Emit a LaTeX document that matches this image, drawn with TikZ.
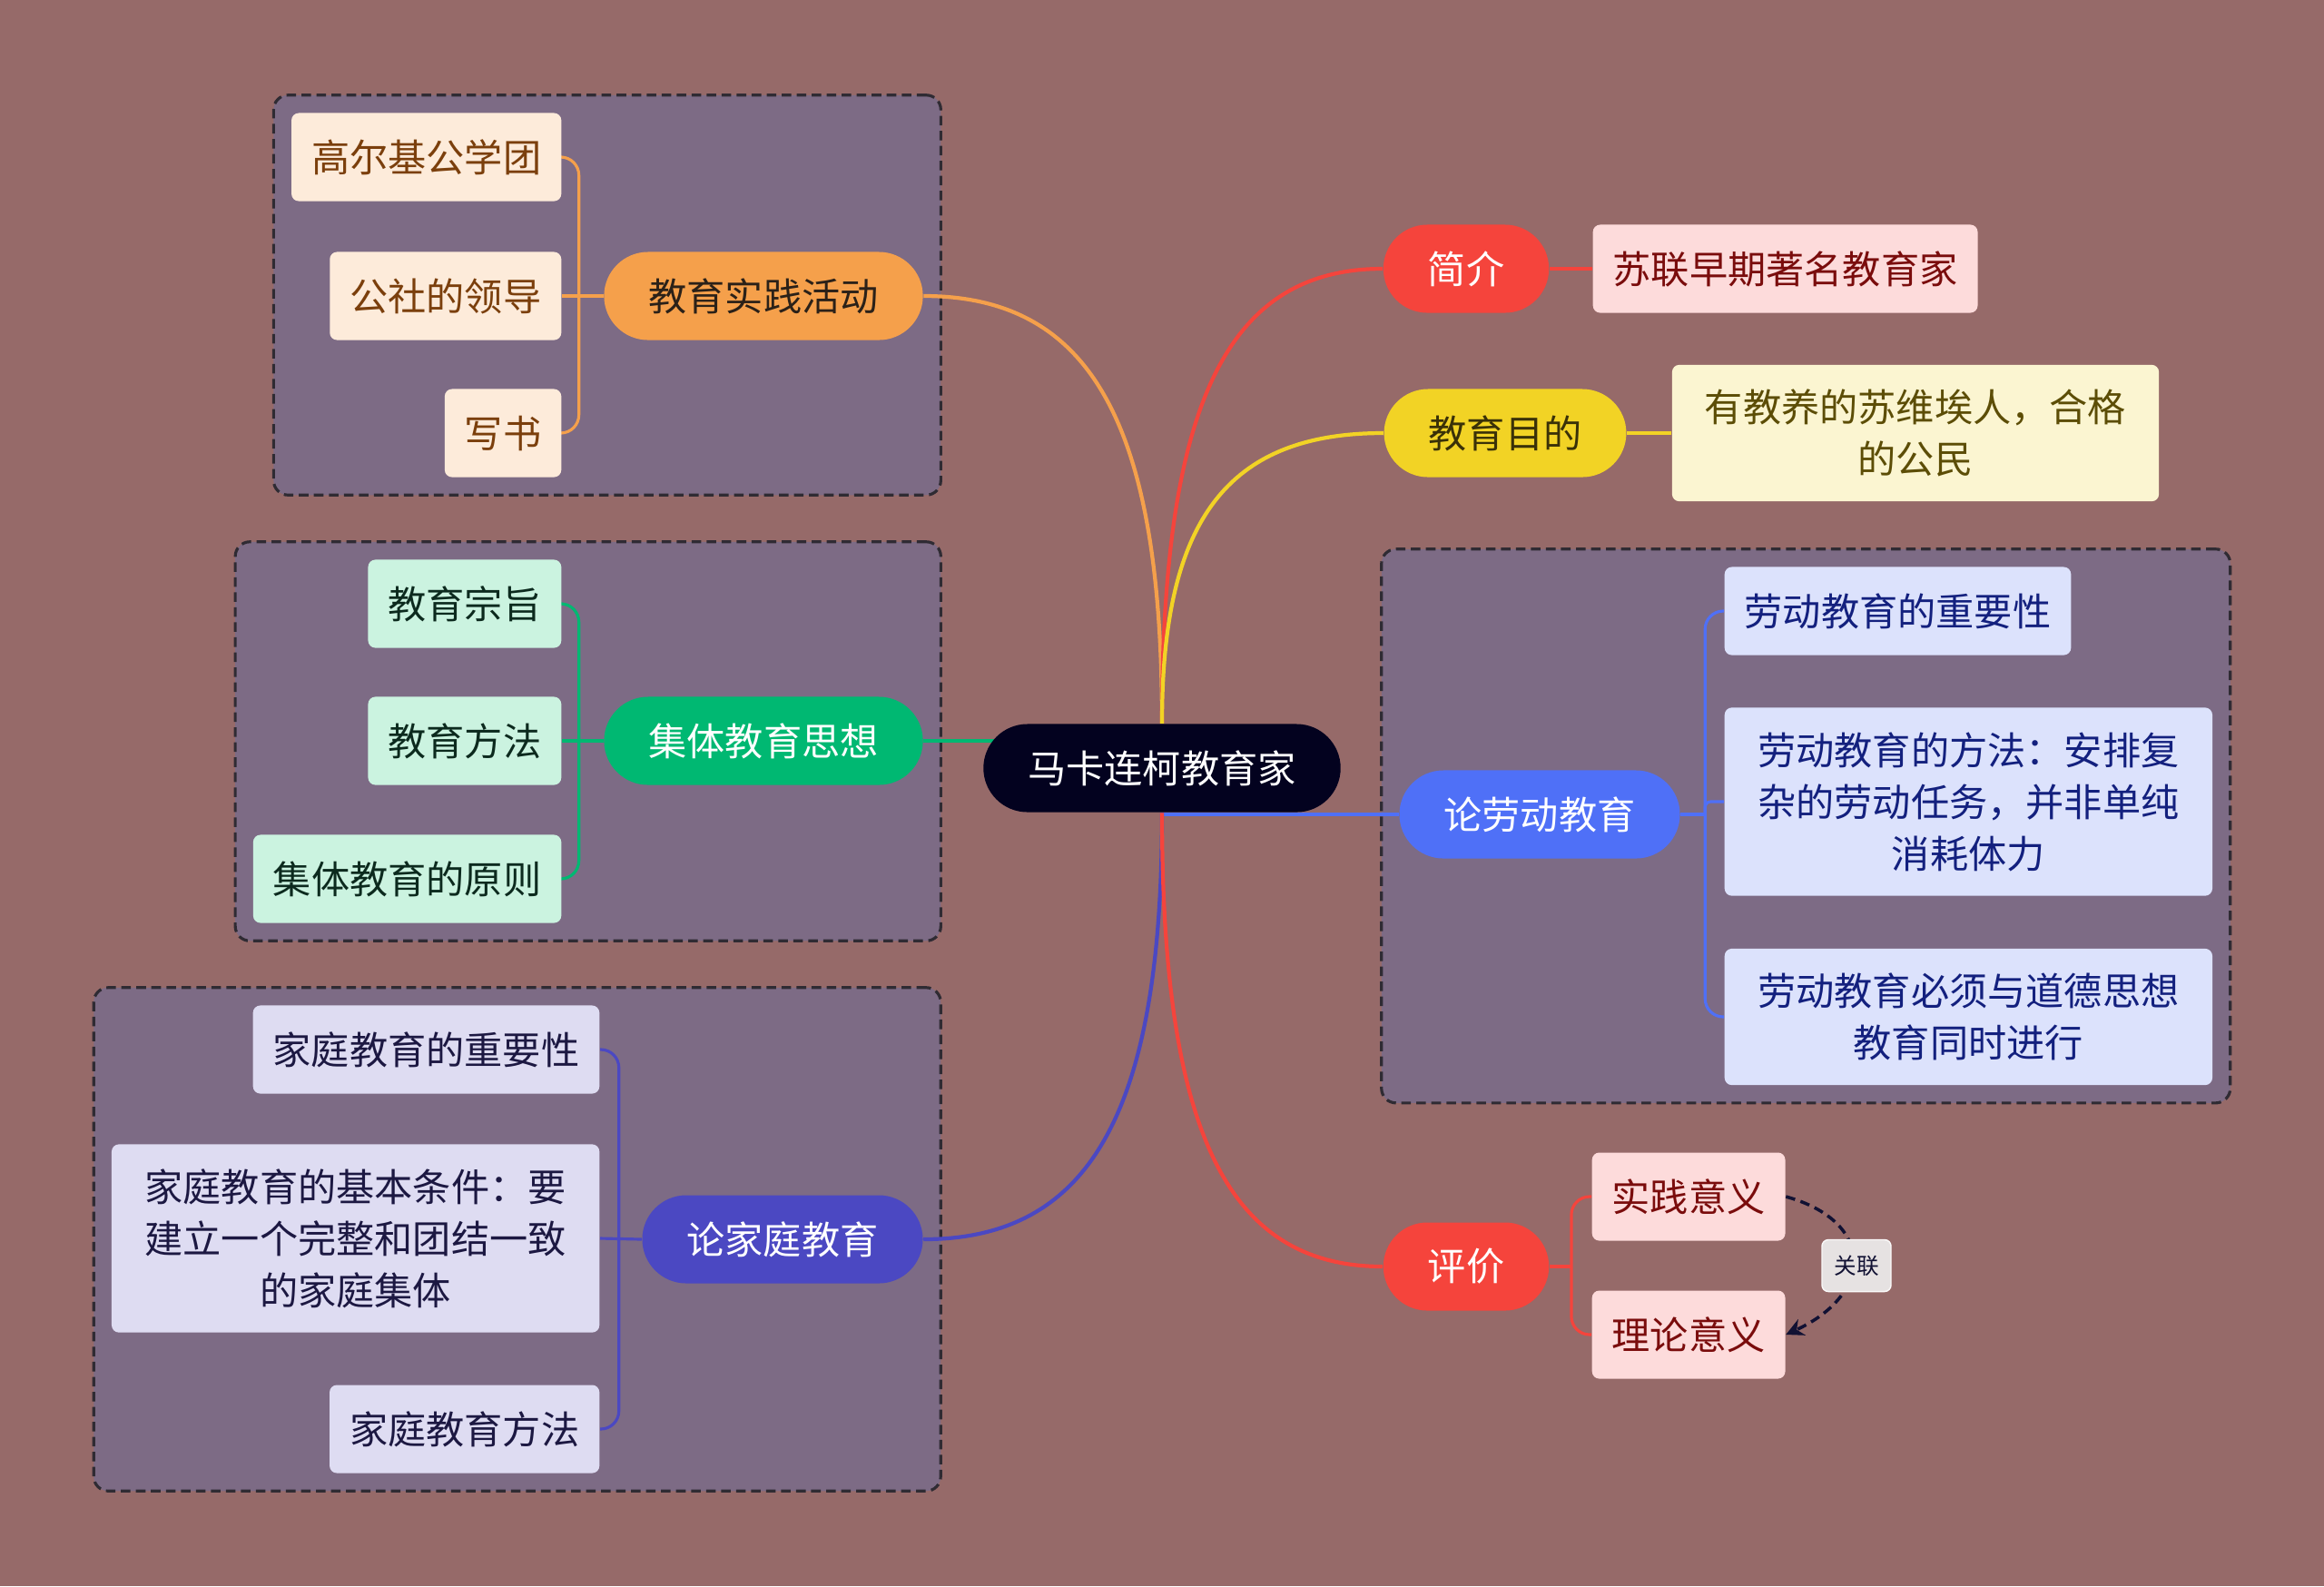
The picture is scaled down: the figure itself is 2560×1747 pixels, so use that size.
\documentclass[tikz,border=0pt]{standalone}
\usepackage{fontspec}
\newfontfamily\cjk{Noto Sans CJK SC}
\usepackage{tikz}
\usetikzlibrary{arrows.meta,positioning,calc,backgrounds,fit}
\pgfdeclarelayer{back}
\pgfsetlayers{back,background,main}
\definecolor{canvas}{HTML}{966A69}
\definecolor{groupfill}{HTML}{7D6B85}
\definecolor{groupline}{HTML}{2F2B33}
\definecolor{rootfill}{HTML}{03021F}
\definecolor{orangemain}{HTML}{F5A04B}
\definecolor{cream}{HTML}{FDEBDA}
\definecolor{browninkc}{HTML}{7B3F0C}
\definecolor{orangeink}{HTML}{2B2118}
\definecolor{greenmain}{HTML}{00B872}
\definecolor{mint}{HTML}{CBF3E0}
\definecolor{greenink}{HTML}{0C2A1E}
\definecolor{violetmain}{HTML}{4B48C2}
\definecolor{lilac}{HTML}{DEDCF2}
\definecolor{violetink}{HTML}{1C1842}
\definecolor{redmain}{HTML}{F5443C}
\definecolor{pinkfill}{HTML}{FDDBDB}
\definecolor{redink}{HTML}{7A0C0C}
\definecolor{yellowmain}{HTML}{F2D325}
\definecolor{lemon}{HTML}{FBF5D1}
\definecolor{oliveink}{HTML}{5C4D06}
\definecolor{yellowink}{HTML}{3A3108}
\definecolor{bluemain}{HTML}{4F70F7}
\definecolor{icefill}{HTML}{DCE2FC}
\definecolor{navyink}{HTML}{13207E}
\definecolor{relink}{HTML}{111133}
\definecolor{tagfill}{HTML}{E6E2E2}

\begin{document}
\begin{tikzpicture}[
    x=0.01cm, y=0.01cm,
    font=\cjk\fontsize{12}{16.2}\selectfont,
    topic/.style={rounded corners=0.485cm, minimum height=0.97cm,
                  inner xsep=0.49cm, inner ysep=0pt},
    leaf/.style={rounded corners=0.08cm, minimum height=0.97cm,
                 inner xsep=0.22cm, inner ysep=0.27cm, align=center},
    orangeleaf/.style={leaf, fill=cream, text=browninkc, anchor=east},
    greenleaf/.style={leaf, fill=mint, text=greenink, anchor=east},
    violetleaf/.style={leaf, fill=lilac, text=violetink, anchor=east},
    pinkleaf/.style={leaf, fill=pinkfill, text=redink},
    lemonleaf/.style={leaf, fill=lemon, text=oliveink},
    iceleaf/.style={leaf, fill=icefill, text=navyink, anchor=west},
    group/.style={draw=groupline, fill=groupfill, line width=0.9pt,
                  dash pattern=on 3pt off 1.7pt, rounded corners=0.16cm, inner sep=0.19cm},
    link/.style={line width=1.2pt},
    twig/.style={line width=0.9pt, rounded corners=0.2cm},
    rel/.style={draw=relink, line width=1pt, dash pattern=on 3pt off 1.8pt,
                -{Stealth[length=5.5pt,width=5.5pt]}},
    tag/.style={fill=tagfill, draw=white!80!tagfill, line width=0.4pt, rounded corners=2pt,
                font=\cjk\fontsize{7}{8}\selectfont, text=relink,
                minimum width=0.76cm, minimum height=0.57cm, inner sep=0pt},
  ]
  \node[topic, fill=rootfill, text=white] (root) at (1280,-846) {马卡连柯教育家};

  % left side
  \node[topic, fill=orangemain, text=orangeink] (sj) at (841,-326) {教育实践活动};
  \node[orangeleaf] (gek) at (619,-173) {高尔基公学团};
  \node[orangeleaf] (gs) at (619,-326) {公社的领导};
  \node[orangeleaf] (xs) at (619,-477) {写书};

  \node[topic, fill=greenmain, text=white] (jt) at (841,-816) {集体教育思想};
  \node[greenleaf] (zz) at (619,-665) {教育宗旨};
  \node[greenleaf] (ff) at (619,-816) {教育方法};
  \node[greenleaf] (yz) at (619,-968) {集体教育的原则};

  \node[topic, fill=violetmain, text=white] (jt2) at (862,-1365) {论家庭教育};
  \node[violetleaf] (zy) at (661,-1156) {家庭教育的重要性};
  \node[violetleaf, minimum width=5.37cm] (tj) at (661,-1364)
        {家庭教育的基本条件：要\\建立一个完整和团结一致\\的家庭集体};
  \node[violetleaf] (jf) at (661,-1574) {家庭教育方法};

  % right side
  \node[topic, fill=redmain, text=white] (jj) at (1615,-296) {简介};
  \node[pinkleaf, right=0.47cm of jj] (sl) {苏联早期著名教育家};
  \node[topic, fill=yellowmain, text=yellowink] (md) at (1658,-477) {教育目的};
  \node[lemonleaf, right=0.49cm of md, minimum width=5.36cm] (gm) {有教养的苏维埃人，合格\\的公民};

  \node[topic, fill=bluemain, text=white] (ld) at (1696,-897) {论劳动教育};
  \node[iceleaf] (ldz) at (1899,-673) {劳动教育的重要性};
  \node[iceleaf, minimum width=5.37cm] (ldf) at (1899,-883)
        {劳动教育的方法：安排复\\杂的劳动任务，并非单纯\\消耗体力};
  \node[iceleaf, minimum width=5.37cm] (ldd) at (1899,-1120)
        {劳动教育必须与道德思想\\教育同时进行};

  \node[topic, fill=redmain, text=white] (pj) at (1615,-1395) {评价};
  \node[pinkleaf, anchor=west] (sy) at (1753,-1318) {实践意义};
  \node[pinkleaf, anchor=west] (ly) at (1753,-1470) {理论意义};
  \node[tag] (gl) at (2045,-1394) {关联};

  % frames and canvas
  \begin{pgfonlayer}{back}
    \fill[canvas] (0,0) rectangle (2560,-1747);
    \node[group, fit=(gek)(xs)(sj)] (g1) {};
    \node[group, fit=(zz)(yz)(jt)] (g2) {};
    \node[group, fit=(zy)(tj)(jf)(jt2)] (g3) {};
    \node[group, fit=(ld)(ldz)(ldf)(ldd)] (g4) {};
  \end{pgfonlayer}

  % connectors
  \begin{pgfonlayer}{background}
    \draw[link, draw=orangemain] (root.north) .. controls +(0,330) and +(184,0) .. (sj.east);
    \draw[link, draw=redmain] (root.north) .. controls +(0,351) and +(-172,0) .. (jj.west);
    \draw[link, draw=yellowmain] (root.north) .. controls +(0,224) and +(-172,0) .. (md.west);
    \draw[link, draw=greenmain] (jt.east) -- (jt.east -| root.center);
    \draw[link, draw=bluemain] (ld.west) -- (ld.west -| root.center);
    \draw[link, draw=violetmain] (root.south) .. controls +(0,-329) and +(184,0) .. (jt2.east);
    \draw[link, draw=redmain] (root.south) .. controls +(0,-350) and +(-172,0) .. (pj.west);

    \coordinate (sjfork) at ($(sj.west)+(-27,0)$);
    \draw[twig, draw=orangemain] (sj.west) -- (gs.east);
    \draw[twig, draw=orangemain] (sjfork) |- (gek.east);
    \draw[twig, draw=orangemain] (sjfork) |- (xs.east);

    \coordinate (jtfork) at ($(jt.west)+(-27,0)$);
    \draw[twig, draw=greenmain] (jt.west) -- (ff.east);
    \draw[twig, draw=greenmain] (jtfork) |- (zz.east);
    \draw[twig, draw=greenmain] (jtfork) |- (yz.east);

    \coordinate (jt2fork) at ($(jt2.west)+(-25,0)$);
    \draw[twig, draw=violetmain] (jt2.west) -- (tj.east);
    \draw[twig, draw=violetmain] (jt2fork) |- (zy.east);
    \draw[twig, draw=violetmain] (jt2fork) |- (jf.east);

    \draw[twig, draw=redmain] (jj.east) -- (sl.west);
    \draw[twig, draw=yellowmain] (md.east) -- (gm.west);

    \coordinate (ldfork) at ($(ld.east)+(27,0)$);
    \draw[twig, draw=bluemain] (ld.east) -- (ldfork);
    \draw[twig, draw=bluemain] (ldfork) |- (ldz.west);
    \draw[twig, draw=bluemain, rounded corners=0.06cm] (ldfork) |- (ldf.west);
    \draw[twig, draw=bluemain] (ldfork) |- (ldd.west);

    \coordinate (pjfork) at ($(pj.east)+(24,0)$);
    \draw[twig, draw=redmain] (pj.east) -- (pjfork);
    \draw[twig, draw=redmain] (pjfork) |- (sy.west);
    \draw[twig, draw=redmain] (pjfork) |- (ly.west);

    \draw[rel] (sy.east) .. controls (2065,-1345) and (2065,-1425) .. (ly.east);
  \end{pgfonlayer}
\end{tikzpicture}
\end{document}
